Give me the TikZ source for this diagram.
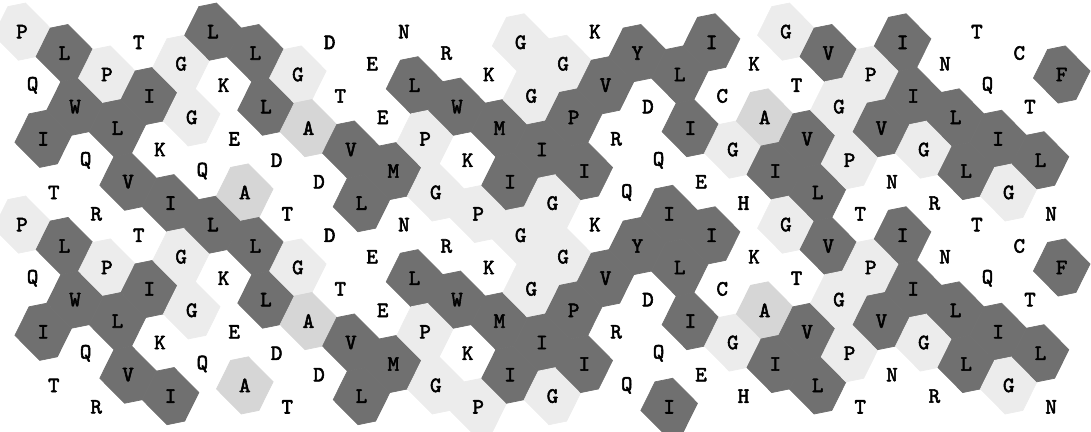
\documentclass[tikz,border=0pt]{standalone}
\usepackage{fontspec}
\newfontfamily\resfont{lmmono10-regular.otf}[FakeBold=2.5]
\usepackage{tikz}
\definecolor{hydro}{RGB}{112, 112, 112}
\definecolor{alan}{RGB}{214, 214, 214}
\definecolor{glypro}{RGB}{236, 236, 236}

\tikzset{
  celld/.style={fill=hydro, draw=hydro, line width=0.5},
  cella/.style={fill=alan, draw=alan, line width=0.5},
  celll/.style={fill=glypro, draw=glypro, line width=0.5},
  cellw/.style={},
  resid/.style={font=\resfont\fontsize{15.5}{16}\selectfont, inner sep=0}
}

\newcommand{\hcaseq}{P/l, Q/w, I/d, T/w, L/d, W/d, Q/w, R/w, P/l, L/d,
  V/d, T/w, I/d, K/w, I/d, G/l, G/l, Q/w, L/d, K/w,
  E/w, A/a, L/d, L/d, D/w, T/w, G/l, A/a, D/w, D/w,
  T/w, V/d, L/d, E/w, E/w, M/d, N/w, L/d, P/l, G/l,
  R/w, W/d, K/w, P/l, K/w, M/d, I/d, G/l, G/l, I/d,
  G/l, G/l, P/d, I/d, K/w, V/d, R/w, Q/w, Y/d, D/w,
  Q/w, I/d, L/d, I/d, E/w, I/d, C/w, G/l, H/w, K/w,
  A/a, I/d, G/l, T/w, V/d, L/d, V/d, G/l, P/l, T/w,
  P/l, V/d, N/w, I/d, I/d, G/l, R/w, N/w, L/d, L/d,
  T/w, Q/w, I/d, G/l, C/w, T/w, L/d, N/w, F/d}

\begin{document}
\begin{tikzpicture}[x=0.26525cm, y=0.268cm]

  \useasboundingbox (0, 0) rectangle (102.83, -40.21);

  % helical net cells, net drawn twice
  \foreach \res/\k [count=\i from 0] in \hcaseq {
    \pgfmathsetmacro{\xx}{\i + 2.073}
    \pgfmathsetmacro{\yy}{-2.95 - mod(5*\i, 18)}
    \foreach \dy in {0, -18} {
      \path[cell\k, shift={(\xx, \yy + \dy)}] (2.667, 0.333) -- (1.333, -2.333)
        -- (-0.333, -2.667) -- (-2.667, -0.333) -- (-1.333, 2.333)
        -- (0.333, 2.667) -- cycle;
    }
  }

  % residues
  \foreach \res/\k [count=\i from 0] in \hcaseq {
    \pgfmathsetmacro{\xx}{\i + 2.073}
    \pgfmathsetmacro{\yy}{-2.95 - mod(5*\i, 18)}
    \node[resid] (t\i) at (\xx, \yy) {\res};
    \node[resid] (b\i) at (\xx, \yy - 18) {\res};
  }

\end{tikzpicture}
\end{document}
